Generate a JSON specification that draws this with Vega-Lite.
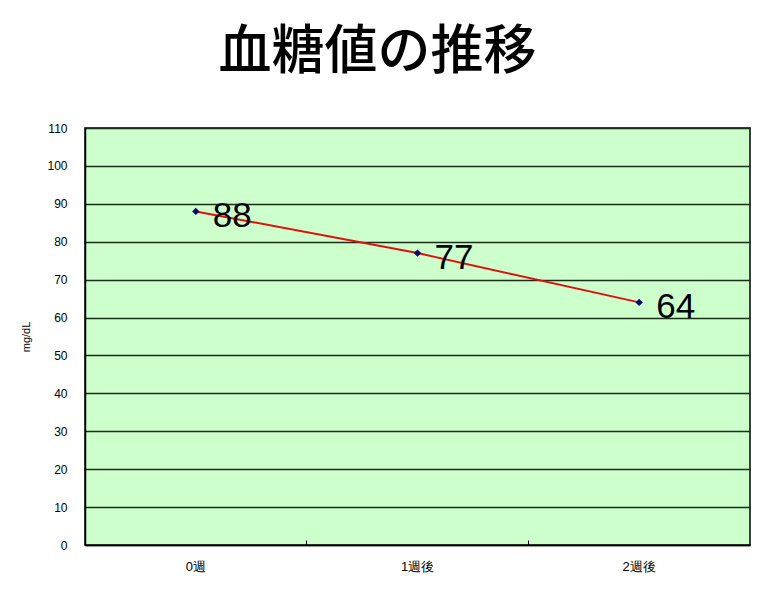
{
  "$schema": "https://vega.github.io/schema/vega-lite/v6.json",
  "description": "血糖値の推移 line chart",
  "autosize": "none",
  "padding": {"left": 85, "top": 128, "right": 10, "bottom": 44},
  "width": 665,
  "height": 417,
  "background": "white",
  "title": {
    "text": "血糖値の推移",
    "font": "Noto Sans CJK JP",
    "fontSize": 53,
    "fontWeight": 500,
    "color": "black",
    "anchor": "middle",
    "dx": -40,
    "offset": 42
  },
  "config": {
    "view": {"fill": "#ccffcc", "stroke": "black", "strokeWidth": 1.5},
    "axis": {"labelFont": "Liberation Sans", "labelColor": "black", "titleFont": "Liberation Sans"}
  },
  "data": {
    "values": [
      {"week": "0週", "value": 88},
      {"week": "1週後", "value": 77},
      {"week": "2週後", "value": 64}
    ]
  },
  "encoding": {
    "x": {
      "field": "week",
      "type": "ordinal",
      "sort": null,
      "scale": {"type": "band", "paddingInner": 0, "paddingOuter": 0},
      "axis": {
        "title": null,
        "labelAngle": 0,
        "labelFontSize": 13,
        "labelPadding": 20,
        "bandPosition": 0,
        "tickSize": -5,
        "tickColor": "black",
        "domainColor": "black",
        "domainWidth": 1.5,
        "grid": false
      }
    },
    "y": {
      "field": "value",
      "type": "quantitative",
      "scale": {"domain": [0, 110], "nice": false},
      "axis": {
        "title": "mg/dL",
        "titleFontSize": 11,
        "titleFontWeight": "normal",
        "titlePadding": 15,
        "values": [0, 10, 20, 30, 40, 50, 60, 70, 80, 90, 100, 110],
        "labelFontSize": 12,
        "labelPadding": 18,
        "ticks": false,
        "domainColor": "black",
        "domainWidth": 1.5,
        "gridColor": "#1a2e1a",
        "gridWidth": 1.5,
        "gridOpacity": 1
      }
    }
  },
  "layer": [
    {"mark": {"type": "line", "color": "#e01010", "strokeWidth": 2}},
    {"mark": {"type": "point", "shape": "diamond", "filled": true, "color": "#0a0a6a", "size": 55, "opacity": 1}},
    {
      "mark": {"type": "text", "align": "left", "baseline": "middle", "dx": 17, "dy": 5, "fontSize": 35, "font": "Liberation Sans", "color": "black"},
      "encoding": {"text": {"field": "value", "type": "quantitative"}}
    }
  ]
}
